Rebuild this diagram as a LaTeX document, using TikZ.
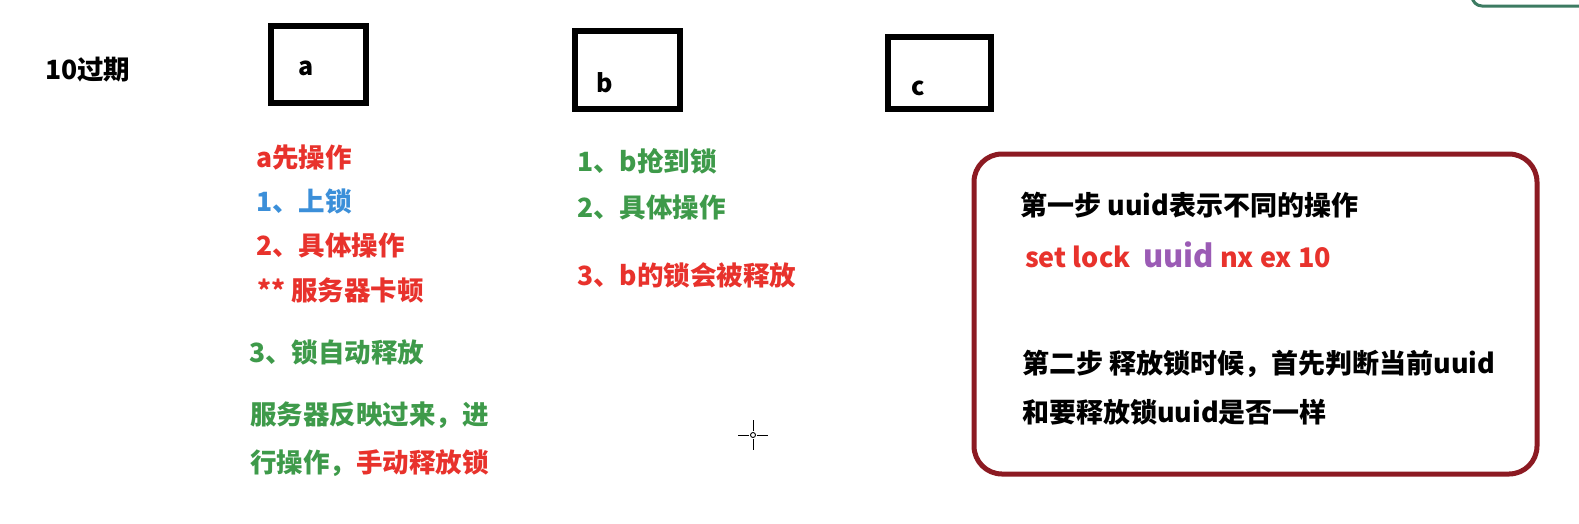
\documentclass[tikz,border=0pt]{standalone}
\usepackage{fontspec}
\setmainfont{Noto Sans CJK SC}
\definecolor{tred}{HTML}{E8322C}
\definecolor{tblue}{HTML}{3B8FD9}
\definecolor{tgreen}{HTML}{3E9A4A}
\definecolor{tpurple}{HTML}{9B5BB5}
\definecolor{boxred}{HTML}{8C1A22}
\definecolor{boxgreen}{HTML}{3C7B62}
\begin{document}
\begin{tikzpicture}[x=1pt,y=-1pt,
  txt/.style={anchor=west,inner sep=0pt,font=\fontsize{26.5}{30}\selectfont\bfseries},
  rtxt/.style={anchor=west,inner sep=0pt,font=\fontsize{27}{30}\selectfont\bfseries},
  client/.style={draw=black,line width=6pt,fill=none},
  lbl/.style={inner sep=0pt,font=\fontsize{25}{30}\selectfont\bfseries}]
\useasboundingbox (0,0) rectangle (1579,523);
\fill[white] (0,0) rectangle (1579,523);
% top-right partial green box
\draw[boxgreen,line width=3pt,rounded corners=10pt] (1472,-20) -- (1472,6) -- (1600,6);
% client boxes
\draw[client] (271,26) rectangle (366,103);
\draw[client] (575,31) rectangle (680,109);
\draw[client] (888,37) rectangle (991,109);
\node[lbl] (la) at (306,68) {a};
\node[lbl] (lb) at (605,83) {b};
\node[lbl] (lc) at (918,88) {c};
% title
\node[txt] (t10) at (45,70) {10过期};
% column a
\node[txt,text=tred] (a0) at (256,157) {a先操作};
\node[txt,text=tblue] (a1) at (256,201) {1、上锁};
\node[txt,text=tred] (a2) at (256,245) {2、具体操作};
\node[txt,text=tred] (a3) at (257,291) {** 服务器卡顿};
\node[txt,text=tgreen] (a4) at (249,352) {3、锁自动释放};
\node[txt,text=tgreen] (a5) at (250,415) {服务器反映过来，进};
\node[txt,text=tgreen] (a6) at (250,463) {行操作，\textcolor{tred}{手动释放锁}};
% column b
\node[txt,text=tgreen] (b1) at (577,161) {1、b抢到锁};
\node[txt,text=tgreen] (b2) at (577,207) {2、具体操作};
\node[txt,text=tred] (b3) at (577,275) {3、b的锁会被释放};
% red box
\draw[boxred,line width=5pt,rounded corners=28pt] (974,154) rectangle (1537,474);
\node[rtxt] (r1) at (1020,205) {第一步 uuid表示不同的操作};
\node[rtxt,text=tred] (r2) at (1025,255) {set lock\ \ \textcolor{tpurple}{\fontsize{31}{32}\selectfont uuid} nx ex 10};
\node[rtxt] (r3) at (1022,364) {第二步 释放锁时候，首先判断当前uuid};
\node[rtxt] (r4) at (1022,412) {和要释放锁uuid是否一样};
% cursor
\coordinate (cur) at (753,435);
\draw[black,line width=0.9pt] (cur) circle (2.5pt);
\draw[black,line width=0.9pt] (753,420) -- (753,431) (753,439) -- (753,450)
  (738,435) -- (749,435) (757,435) -- (768,435);
\end{tikzpicture}
\end{document}
